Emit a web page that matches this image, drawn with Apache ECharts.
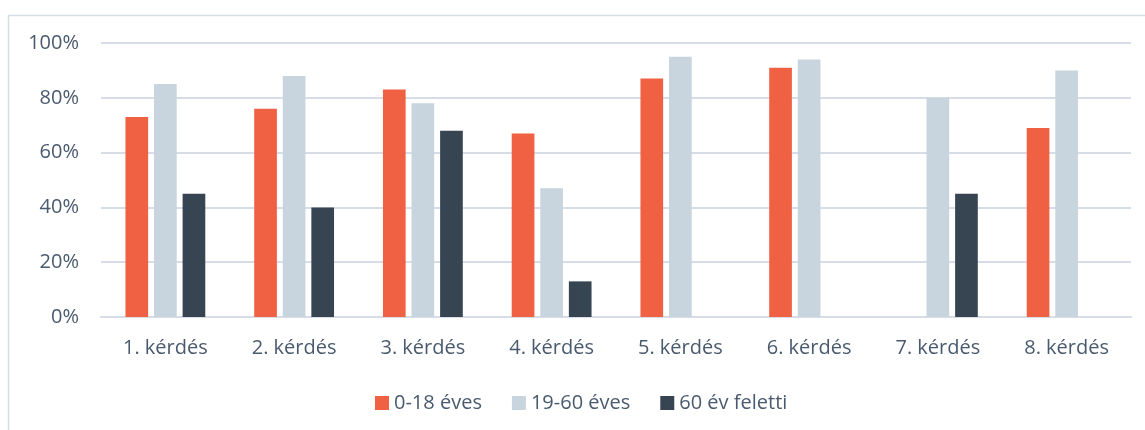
<!DOCTYPE html>
<html>
<head>
<meta charset="utf-8">
<script src="https://cdn.jsdelivr.net/npm/echarts@6/dist/echarts.min.js"></script>
<style>
  html, body { margin: 0; padding: 0; background: #fff; }
  #chart { width: 1145px; height: 430px; }
</style>
</head>
<body>
<div id="chart"></div>
<script>
// kategóriák és értékek (%)
const categories = ['1. kérdés', '2. kérdés', '3. kérdés', '4. kérdés', '5. kérdés', '6. kérdés', '7. kérdés', '8. kérdés'];
const seriesNames = ['0-18 éves', '19-60 éves', '60 év feletti'];
const young = [73, 76, 83, 67, 87, 91, null, 69];
const adult = [85, 88, 78, 47, 95, 94, 80, 90];
const senior = [45, 40, 68, 13, null, null, 45, null];

const textColor = '#4a5a6e';
const font = '"Open Sans", sans-serif';

const chart = echarts.init(document.getElementById('chart'));

chart.setOption({
  animation: false,
  textStyle: { fontFamily: font },
  graphic: [{
    type: 'polyline',
    shape: { points: [[8.5, 430], [8.5, 15.5], [1145, 15.5]] },
    style: { stroke: '#d6dde7', lineWidth: 1.5, fill: null }
  }],
  grid: { left: 101, right: 14, top: 43, bottom: 113 },
  legend: {
    data: seriesNames,
    left: 375,
    top: 393,
    padding: 0,
    itemWidth: 14,
    itemHeight: 14,
    itemGap: 30,
    icon: 'rect',
    textStyle: { color: textColor, fontSize: 20, fontFamily: font }
  },
  xAxis: {
    type: 'category',
    data: categories,
    axisLine: { lineStyle: { color: '#d6dde7', width: 2 } },
    axisTick: { show: false },
    axisLabel: { color: textColor, fontSize: 20, margin: 21 }
  },
  yAxis: {
    type: 'value',
    min: 0,
    max: 100,
    interval: 20,
    axisLine: { show: false },
    axisTick: { show: false },
    splitLine: { lineStyle: { color: '#d6dde7', width: 2 } },
    axisLabel: { color: textColor, fontSize: 20, margin: 22, formatter: '{value}%' }
  },
  series: [
    { name: seriesNames[0], type: 'bar', data: young, itemStyle: { color: '#f06043' }, barGap: '26%', barCategoryGap: '38%' },
    { name: seriesNames[1], type: 'bar', data: adult, itemStyle: { color: '#c9d5de' } },
    { name: seriesNames[2], type: 'bar', data: senior, itemStyle: { color: '#374452' } }
  ]
});
</script>
</body>
</html>
